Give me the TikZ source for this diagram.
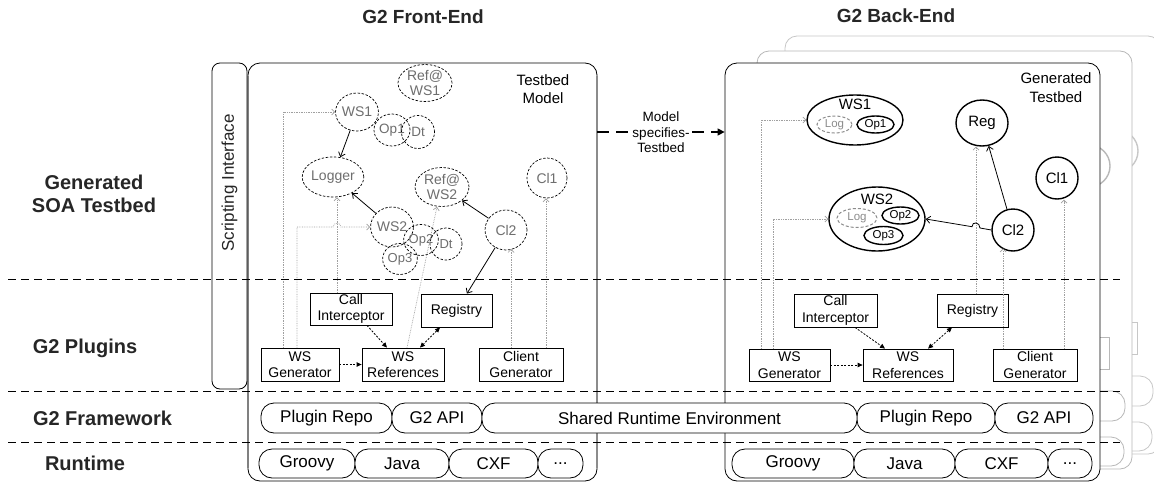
\documentclass[tikz,border=0pt]{standalone}
\usepackage{fontspec}
\setmainfont{Liberation Sans}
\usetikzlibrary{shapes.geometric,arrows.meta,calc}
\definecolor{txtgray}{HTML}{6E6E6E}
\definecolor{dotgray}{HTML}{A0A0A0}
\colorlet{bkc}{black}
\colorlet{bkl}{black!45}
\colorlet{dotc}{dotgray}
\newcommand{\fsz}[2]{\fontsize{#1}{#2}\selectfont}
\newcommand{\BEtxt}[1]{#1}
\tikzset{
  every node/.style={inner sep=0pt},
  sz/.style 2 args={minimum width=#1pt, minimum height=#2pt},
  dc/.style={ellipse, draw, dash pattern=on 2.5pt off 1.6pt, line width=0.7pt, text=txtgray, font=\fsz{14}{15.5}, align=center},
  bx/.style={rectangle, draw=bkc, text=bkc, line width=0.8pt, fill=white, align=center, font=\fsz{14}{16.5}},
  pill/.style={rectangle, rounded corners=13pt, draw=bkc, text=bkc, line width=0.8pt, fill=white, font=\fsz{17}{20}},
  bell/.style={ellipse, draw=bkc, text=bkc, line width=1.4pt, font=\fsz{15}{15}},
  lgell/.style={ellipse, draw=bkl, text=bkl, dash pattern=on 3pt off 2pt, line width=1pt, font=\fsz{11.5}{12}},
  opell/.style={ellipse, draw=bkc, text=bkc, line width=1.4pt, font=\fsz{11.5}{12}},
  barb/.style={draw=bkc, line width=0.8pt, -{Straight Barb[length=4pt,width=7pt]}},
  dotar/.style={draw=dotc, line width=0.7pt, dash pattern=on 0.7pt off 1pt, -{Straight Barb[length=3pt,width=6pt]}},
  plar/.style={draw=bkc, line width=0.8pt, dash pattern=on 2pt off 1.5pt, -{Triangle[length=5pt,width=4.5pt]}},
  plartwo/.style={draw=bkc, line width=0.8pt, dash pattern=on 2pt off 1.5pt, {Triangle[length=5pt,width=4.5pt]}-{Triangle[length=5pt,width=4.5pt]}},
  frm/.style={rectangle, rounded corners=12pt, draw=bkc, line width=0.8pt, fill=white, sz={375}{418}},
  lbl/.style={font=\bfseries\fsz{20}{23}, align=center, text=black!85},
  ttl/.style={font=\bfseries\fsz{19}{22}, text=black!85},
  hdash/.style={line width=0.9pt, dash pattern=on 8pt off 5pt},
}
\newcommand{\BackEnd}{%
  \node[frm] (frame) at (912.5,272) {};
  % circles
  \node[bell, sz={96}{50}] (ws1) at (855,120) {};
  \node[text=bkc, font=\fsz{15}{15}] (ws1t) at (855,104.5) {\BEtxt{WS1}};
  \node[lgell, sz={35}{17}] (log1) at (834.5,124.5) {\BEtxt{Log}};
  \node[opell, sz={37}{17}] (op1) at (875.5,124.5) {\BEtxt{Op1}};
  \node[bell, sz={52}{46}] (regc) at (982,123) {\BEtxt{Reg}};
  \node[bell, sz={42}{42}] (cl1) at (1057,178) {\BEtxt{Cl1}};
  \node[bell, sz={96}{64}] (ws2) at (877,219) {};
  \node[text=bkc, font=\fsz{15}{15}] (ws2t) at (877,199) {\BEtxt{WS2}};
  \node[lgell, sz={40}{19}] (log2) at (857,218) {\BEtxt{Log}};
  \node[opell, sz={37}{17}] (op2) at (900.5,215.5) {\BEtxt{Op2}};
  \node[opell, sz={39}{18}] (op3) at (883.5,235.5) {\BEtxt{Op3}};
  \node[bell, sz={42}{42}] (cl2) at (1013,230) {\BEtxt{Cl2}};
  % plugin boxes
  \node[bx, sz={83}{33}] (call) at (835.5,310.5) {\BEtxt{Call\\Interceptor}};
  \node[bx, sz={71}{33}] (reg) at (972.5,310.5) {\BEtxt{Registry}};
  \node[bx, sz={81}{32}] (wsg) at (789.5,365) {\BEtxt{WS\\Generator}};
  \node[bx, sz={90}{32}] (wsr) at (908,365) {\BEtxt{WS\\References}};
  \node[bx, sz={84}{32}] (cg) at (1035,365) {\BEtxt{Client\\Generator}};
  % pills
  \node[pill, sz={138}{30}] (prB) at (926,418) {\BEtxt{Plugin Repo}};
  \node[pill, sz={98}{30}] (apiB) at (1044,418) {\BEtxt{G2 API}};
  \node[pill, sz={122}{29}] (grB) at (793,463.5) {\BEtxt{Groovy}};
  \node[pill, sz={101}{29}] (jaB) at (904.5,463.5) {\BEtxt{Java}};
  \node[pill, sz={93}{29}] (cxB) at (1001.5,463.5) {\BEtxt{CXF}};
  \node[pill, sz={44}{29}] (dtB) at (1070,463.5) {\BEtxt{...}};
  % dotted connectors
  \coordinate (bg1) at ([xshift=-28.5]wsg.north);
  \draw[dotar] (bg1) |- (ws1.west);
  \coordinate (bg2) at ([xshift=-16.5]wsg.north);
  \draw[dotar] (bg2) |- (ws2.west);
  \coordinate (br1) at ([xshift=3.5]reg.north);
  \draw[dotar] (br1) -- (br1 |- regc.south);
  \coordinate (bc1) at ([xshift=-32]cg.north);
  \coordinate (bc1e) at (1003,248.5);
  \draw[dotar] (bc1) -- (bc1e);
  \coordinate (bc2) at ([xshift=29]cg.north);
  \draw[dotar] (bc2) -- (bc2 |- cl1.south);
  % solid connectors
  \draw[barb] (cl2.west) -- (980,228) .. controls (980,222) and (972,221) .. (972,226.7) -- (ws2.east);
  \draw[barb] (cl2) -- (regc);
  % plugin connectors
  \draw[plar] (wsg.east) -- (wsr.west);
  \draw[plar] ([xshift=19.5]call.south) -- ([xshift=-23]wsr.north);
  \draw[plartwo] ([xshift=-20.5]reg.south) -- ([xshift=20]wsr.north);
}
\begin{document}
\begin{tikzpicture}[x=1pt,y=-1pt]
\useasboundingbox (0,0) rectangle (1154,482);
% ---------- back-end stack ----------
\begin{scope}[shift={(60,-27)}, name prefix=b3-]
  \colorlet{bkc}{black!22}\colorlet{bkl}{black!18}\colorlet{dotc}{black!15}
  \renewcommand{\BEtxt}[1]{}
  \BackEnd
\end{scope}
\begin{scope}[shift={(32,-12)}, name prefix=b2-]
  \colorlet{bkc}{black!28}\colorlet{bkl}{black!20}\colorlet{dotc}{black!18}
  \renewcommand{\BEtxt}[1]{}
  \BackEnd
\end{scope}
\begin{scope}[name prefix=bm-]
  \BackEnd
\end{scope}
\node[font=\fsz{15}{19}, align=center] (gtxt) at (1056,88) {Generated\\Testbed};

% ---------- front-end ----------
\node[frm, sz={349}{418}] (feF) at (422.5,272) {};
\draw[black!50, line width=2pt] (248,76) -- (248,468);
\draw[black!45, line width=1.4pt] (597,76) -- (597,468);
\node[rectangle, rounded corners=8pt, draw, line width=0.8pt, fill=white, sz={35}{326}] (scr) at (229.5,226) {};
\node[rotate=90, font=\fsz{17}{20}, text=black!85] (scrt) at (229.5,183) {Scripting Interface};
\node[font=\fsz{15}{18}, align=center] (tm) at (543,89) {Testbed\\Model};

\node[dc, sz={54}{37}] (ref1F) at (425,83) {Ref@\\WS1};
\node[dc, sz={40}{38}] (ws1F) at (357,112) {WS1};
\node[dc, sz={32}{32}, font=\fsz{13.5}{14}] (op1F) at (392,130) {Op1};
\node[dc, sz={33}{33}, font=\fsz{13.5}{14}] (dt1F) at (418,132) {Dt};
\node[dc, sz={52}{40}] (loggerF) at (333,177) {Logger};
\node[dc, sz={54}{39}] (ref2F) at (442,187) {Ref@\\WS2};
\node[dc, sz={40}{40}] (cl1F) at (547,178) {Cl1};
\node[dc, sz={40}{40}] (ws2F) at (392,227) {WS2};
\node[dc, sz={30}{31}, font=\fsz{13}{14}] (op2F) at (421,240) {Op2};
\node[dc, sz={32}{32}, font=\fsz{13}{14}] (dt2F) at (446,244) {Dt};
\node[dc, sz={31}{31}, font=\fsz{13}{14}] (op3F) at (400,259) {Op3};
\node[dc, sz={42}{40}] (cl2F) at (506,230) {Cl2};

\node[bx, sz={82}{32}] (callF) at (351,309) {Call\\Interceptor};
\node[bx, sz={71}{33}] (regF) at (456.5,310.5) {Registry};
\node[bx, sz={78}{33}] (wsgF) at (300,364.5) {WS\\Generator};
\node[bx, sz={82}{33}] (wsrF) at (403,364.5) {WS\\References};
\node[bx, sz={84}{33}] (cgF) at (521,364.5) {Client\\Generator};

\node[pill, sz={131}{30}] (prF) at (326.5,418) {Plugin Repo};
\node[pill, sz={90}{30}] (apiF) at (437,418) {G2 API};
\node[pill, sz={375}{30}] (shared) at (669.5,418) {Shared Runtime Environment};
\node[pill, sz={96}{29}] (grF) at (307,463.5) {Groovy};
\node[pill, sz={94}{29}] (jaF) at (402,463.5) {Java};
\node[pill, sz={89}{29}] (cxF) at (493.5,463.5) {CXF};
\node[pill, sz={45}{29}] (dtF) at (560.5,463.5) {...};

% dotted front connectors
\coordinate (fg1) at ([xshift=-17]wsgF.north);
\draw[dotar] (fg1) |- (ws1F.west);
\coordinate (fg2) at ([xshift=-3]wsgF.north);
\draw[dotar] (fg2) |- (333,227) .. controls (333,222) and (341,222) .. (341,227) -- (ws2F.west);
\coordinate (fc1) at ([xshift=-14]callF.north);
\draw[dotar] (fc1) -- (fc1 |- loggerF.south);
\draw[dotar] ([xshift=4]wsrF.north) -- ([xshift=-5]ref2F.south);
\coordinate (fcg1) at ([xshift=-10]cgF.north);
\coordinate (fcg1e) at (511,249);
\draw[dotar] (fcg1) -- (fcg1e);
\coordinate (fcg2) at ([xshift=25]cgF.north);
\draw[dotar] (fcg2) -- (fcg2 |- cl1F.south);

% solid front connectors
\draw[barb] (ws1F) -- (loggerF);
\draw[barb] (ws2F) -- (loggerF);
\draw[barb] (cl2F) -- (ref2F);
\draw[barb] (cl2F) -- (regF);

% plugin front connectors
\draw[plar] (wsgF.east) -- (wsrF.west);
\draw[plar] ([xshift=16]callF.south) -- ([xshift=-16]wsrF.north);
\draw[plartwo] ([xshift=-16.5]regF.south) -- ([xshift=17]wsrF.north);

% ---------- layer separators ----------
\draw[hdash] (8,279) -- (1120,279);
\draw[hdash] (8,391) -- (1120,391);
\draw[hdash] (8,442) -- (1120,442);

% ---------- model arrow ----------
\coordinate (mA) at (661,132);
\draw[line width=1.4pt, dash pattern=on 12pt off 7pt, -{Triangle[length=7pt,width=7pt]}] (mA -| feF.east) -- (mA -| bm-frame.west);
\node[fill=white, font=\fsz{13.5}{15.5}, align=center, inner sep=1pt] (mt) at (661,132.5) {Model\\specifies-\\Testbed};

% ---------- labels ----------
\node[lbl] (l1) at (94,193.5) {Generated\\SOA Testbed};
\node[lbl] (l2) at (85,348) {G2 Plugins};
\node[lbl] (l3) at (102.5,418) {G2 Framework};
\node[lbl] (l4) at (85,463) {Runtime};
\node[ttl] (t1) at (423,17) {G2 Front-End};
\node[ttl] (t2) at (896,16) {G2 Back-End};
\end{tikzpicture}
\end{document}
